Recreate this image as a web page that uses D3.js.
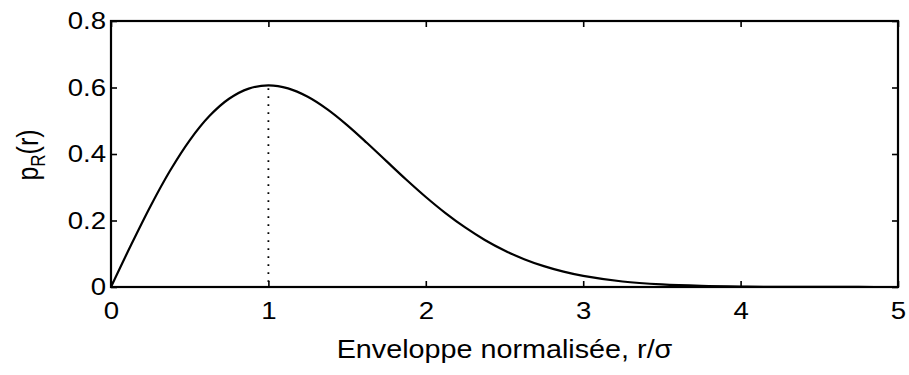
<!DOCTYPE html>
<html><head><meta charset="utf-8">
<script src="https://cdn.jsdelivr.net/npm/d3@7"></script>
<style>
html,body{margin:0;padding:0;background:#fff;}
text{font-family:"Liberation Sans",Arial,Helvetica,sans-serif;fill:#000;}
</style></head>
<body><svg id="c" width="909" height="375"></svg>
<script>
// Data
const rValues = [0,0.125,0.25,0.375,0.5,0.625,0.75,0.875,1,1.125,1.25,1.375,1.5,1.625,1.75,1.875,2,2.125,2.25,2.375,2.5,2.625,2.75,2.875,3,3.25,3.5,3.75,4,4.25,4.5,4.75,5];
const pValues = [0,0.1240,0.2423,0.3495,0.4412,0.5141,0.5661,0.5967,0.6065,0.5975,0.5722,0.5343,0.4870,0.4339,0.3785,0.3233,0.2707,0.2223,0.1791,0.1415,0.1098,0.0837,0.0627,0.0461,0.0333,0.0165,0.0077,0.0033,0.0013,0.0005,0.0002,0.0001,0.0000];
const peakR = [1];
const peakP = [0.6065];
const xTicks = [0,1,2,3,4,5];
const yTicks = [0,0.2,0.4,0.6,0.8];
const yTickLabels = ["0","0.2","0.4","0.6","0.8"];
const xLabel = "Enveloppe normalisée, r/σ";

const svg = d3.select("#c");
const L = 111, R = 898, T = 21, B = 287;
const SX = 1.15;
const x = d3.scaleLinear().domain([0,5]).range([L,R]);
const y = d3.scaleLinear().domain([0,0.8]).range([B,T]);

function styleAxis(g){
  g.select(".domain").remove();
  g.selectAll("line").attr("stroke","#000").attr("stroke-width",1.6);
  g.selectAll("text").attr("font-size",24).attr("fill","#000")
    .style("font-family","Liberation Sans, Arial, Helvetica, sans-serif");
}

// bottom axis
const gB = svg.append("g").attr("transform",`translate(0,${B})`)
  .call(d3.axisBottom(x).tickValues(xTicks).tickFormat(d3.format("d")).tickSize(-6).tickPadding(15));
styleAxis(gB);
gB.selectAll("text").attr("transform",`scale(${SX},1)`);
// top axis (ticks only)
const gT = svg.append("g").attr("transform",`translate(0,${T})`)
  .call(d3.axisTop(x).tickValues(xTicks).tickFormat("").tickSize(-6));
styleAxis(gT);
// left axis
const gL = svg.append("g").attr("transform",`translate(${L},0)`)
  .call(d3.axisLeft(y).tickValues(yTicks).tickFormat((d,i)=>yTickLabels[i]).tickSize(-6).tickPadding(5));
styleAxis(gL);
gL.selectAll("text").attr("transform",`scale(${SX},1)`).attr("x",-5/SX);
// right axis
const gR = svg.append("g").attr("transform",`translate(${R},0)`)
  .call(d3.axisRight(y).tickValues(yTicks).tickFormat("").tickSize(-6));
styleAxis(gR);

// frame
svg.append("rect").attr("x",L).attr("y",T).attr("width",R-L).attr("height",B-T)
  .attr("fill","none").attr("stroke","#000").attr("stroke-width",2.2);

// dotted line at peak
svg.append("line").attr("x1",x(peakR[0])).attr("x2",x(peakR[0]))
  .attr("y1",y(peakP[0])+3).attr("y2",y(0))
  .attr("stroke","#000").attr("stroke-width",1.8).attr("stroke-dasharray","1.6,6.4");

// curve
const data = rValues.map((r,i)=>({r, p:pValues[i]}));
svg.append("path").datum(data)
  .attr("fill","none").attr("stroke","#000").attr("stroke-width",2.2)
  .attr("d", d3.line().x(d=>x(d.r)).y(d=>y(d.p)).curve(d3.curveCatmullRom.alpha(0.5)));

// x label
svg.append("text").attr("transform",`translate(${(L+R)/2},358) scale(${SX},1)`)
  .attr("text-anchor","middle").attr("font-size",25).text(xLabel);

// y label
const yl = svg.append("text").attr("transform",`translate(38,155) scale(${SX},1) rotate(-90)`)
  .attr("text-anchor","middle").attr("font-size",25);
yl.append("tspan").text("p");
yl.append("tspan").attr("font-size",17).attr("dy",6).text("R");
yl.append("tspan").attr("dy",-6).text("(r)");
</script></body></html>
